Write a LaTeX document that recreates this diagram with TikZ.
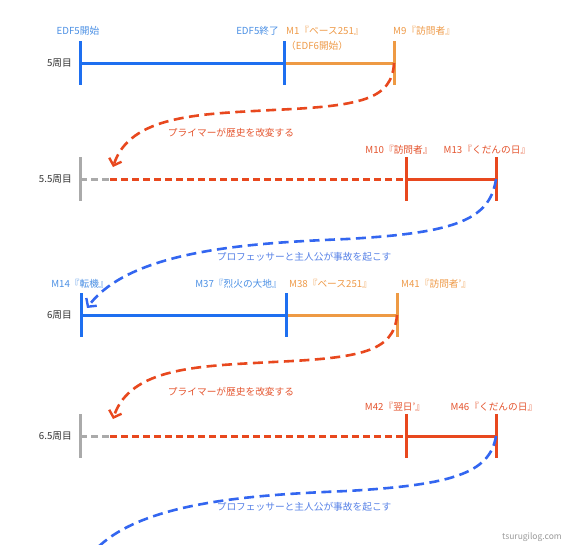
\documentclass[tikz,border=0pt]{standalone}
\usepackage{fontspec}
\setmainfont{Noto Sans CJK JP}
\usetikzlibrary{arrows.meta}
\definecolor{edfblue}{HTML}{1E6FF0}
\definecolor{edftext}{HTML}{4A8FE4}
\definecolor{baseorange}{HTML}{EE9A44}
\definecolor{orangetext}{HTML}{EE9A48}
\definecolor{loopred}{HTML}{E8481E}
\definecolor{redtext}{HTML}{E4542E}
\definecolor{accblue}{HTML}{3366F0}
\definecolor{acctext}{HTML}{5580E6}
\definecolor{pastgray}{HTML}{AAAAAA}
\tikzset{
  bar/.style={line width=3pt},
  dashbar/.style={bar, dash pattern=on 7pt off 4pt},
  jump/.style={line width=2.6pt, dash pattern=on 10pt off 5.5pt,
    -{Straight Barb[length=6pt,width=13pt,line width=2.4pt]}},
  lbl/.style={inner sep=0pt, font=\fontsize{9.7}{11}\selectfont},
  lap/.style={lbl, text=black!80, anchor=east},
}
\newcommand{\tick}[2]{\draw[bar, #2] ([yshift=22pt]#1) -- ([yshift=-22pt]#1);}

\begin{document}
\begin{tikzpicture}[x=1pt, y=-1pt]
  \clip (0,0) rectangle (564,544);
  % 5周目
  \coordinate (a0) at (80,63);
  \coordinate (a1) at (284,63);
  \coordinate (a2) at (394,63);
  \draw[bar, edfblue] (a0) -- (a1);
  \draw[bar, baseorange] (a1) -- (a2);
  \tick{a0}{edfblue} \tick{a1}{edfblue} \tick{a2}{baseorange}
  \node[lap] (r5) at (72,63) {5周目};
  \node[lbl, text=edftext] (l5a) at (78,31) {EDF5開始};
  \node[lbl, text=edftext, anchor=east] (l5b) at (279,31) {EDF5終了};
  \node[lbl, text=orangetext, anchor=west] (l5c) at (286,31) {M1『ベース251』};
  \node[lbl, text=orangetext, anchor=west] (l5d) at (286,46) {（EDF6開始）};
  \node[lbl, text=orangetext, anchor=west] (l5e) at (393,31) {M9『訪問者』};
  % 5.5周目
  \coordinate (b0) at (80,179);
  \coordinate (bg) at (110,179);
  \coordinate (b1) at (406,179);
  \coordinate (b2) at (496,179);
  \draw[dashbar, pastgray] (b0) -- (bg);
  \draw[dashbar, loopred] (bg) -- (b1);
  \draw[bar, loopred] (b1) -- (b2);
  \tick{b0}{pastgray} \tick{b1}{loopred} \tick{b2}{loopred}
  \node[lap] (r55) at (72,179) {5.5周目};
  \node[lbl, text=redtext] (l55a) at (399,150) {M10『訪問者』};
  \node[lbl, text=redtext] (l55b) at (487,150) {M13『くだんの日』};
  % 6周目
  \coordinate (c0) at (81,315);
  \coordinate (c1) at (286,315);
  \coordinate (c2) at (397,315);
  \draw[bar, edfblue] (c0) -- (c1);
  \draw[bar, baseorange] (c1) -- (c2);
  \tick{c0}{edfblue} \tick{c1}{edfblue} \tick{c2}{baseorange}
  \node[lap] (r6) at (72,315) {6周目};
  \node[lbl, text=edftext] (l6a) at (80,284) {M14『転機』};
  \node[lbl, text=edftext, anchor=east] (l6b) at (282,284) {M37『烈火の大地』};
  \node[lbl, text=orangetext, anchor=west] (l6c) at (289,284) {M38『ベース251』};
  \node[lbl, text=orangetext, anchor=west] (l6d) at (401,284) {M41『訪問者'』};
  % 6.5周目
  \coordinate (d0) at (80,436);
  \coordinate (dg) at (110,436);
  \coordinate (d1) at (406,436);
  \coordinate (d2) at (496,436);
  \draw[dashbar, pastgray] (d0) -- (dg);
  \draw[dashbar, loopred] (dg) -- (d1);
  \draw[bar, loopred] (d1) -- (d2);
  \tick{d0}{pastgray} \tick{d1}{loopred} \tick{d2}{loopred}
  \node[lap] (r65) at (72,436) {6.5周目};
  \node[lbl, text=redtext] (l65a) at (395,407) {M42『翌日'』};
  \node[lbl, text=redtext] (l65b) at (494,407) {M46『くだんの日』};
  % jumps between loops
  \coordinate (p1) at (113,167);
  \coordinate (p2) at (87,308);
  \coordinate (p3) at (113,419);
  \coordinate (p4) at (87,560);
  \draw[jump, loopred] (a2) .. controls (392,100) and (360,106) .. (273,110)
    .. controls (200,114) and (130,115) .. (p1);
  \draw[jump, accblue] (b2) .. controls (490,222) and (450,233) .. (347,239)
    .. controls (250,243) and (130,250) .. (p2);
  \draw[jump, loopred] (c2) .. controls (394,352) and (360,358) .. (273,362)
    .. controls (200,366) and (130,367) .. (p3);
  \draw[jump, accblue] (d2) .. controls (490,474) and (450,485) .. (347,491)
    .. controls (250,495) and (130,502) .. (p4);
  \node[lbl, text=redtext] (j1) at (231,133) {プライマーが歴史を改変する};
  \node[lbl, text=acctext] (j2) at (304,257) {プロフェッサーと主人公が事故を起こす};
  \node[lbl, text=redtext] (j3) at (231,392) {プライマーが歴史を改変する};
  \node[lbl, text=acctext] (j4) at (304,507) {プロフェッサーと主人公が事故を起こす};
  \node[lbl, text=black!40, anchor=east, font=\fontsize{8.5}{10}\selectfont] (wm) at (562,537) {tsurugilog.com};
\end{tikzpicture}
\end{document}
